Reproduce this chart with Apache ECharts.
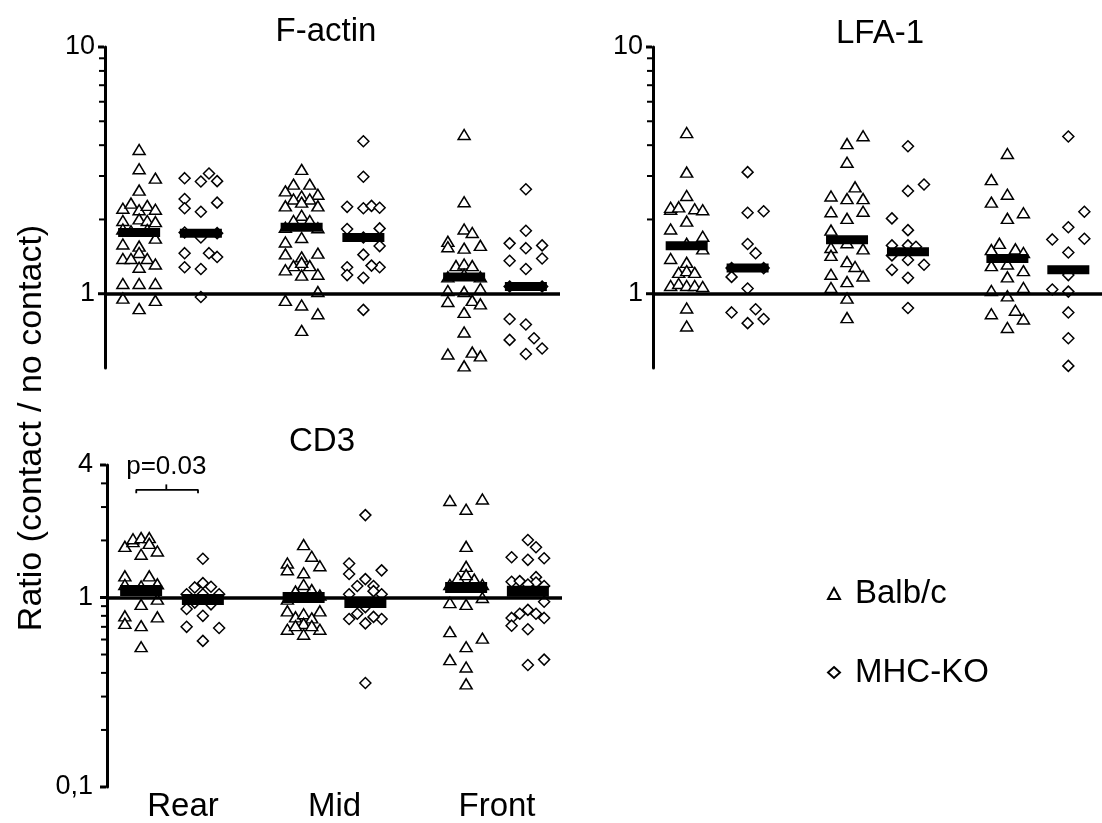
<!DOCTYPE html>
<html>

<head>
    <meta charset="utf-8">
    <title>Ratio contact / no contact</title>
    <script src="https://cdn.jsdelivr.net/npm/echarts@6/dist/echarts.min.js"></script>
    <style>
        html,
        body {
            margin: 0;
            padding: 0;
            background: #fff;
        }

        #main {
            width: 1102px;
            height: 823px;
        }
    </style>
</head>

<body>
    <div id="main"></div>
    <script>
        // categories and groups
        var categories = ['Rear', 'Mid', 'Front'];
        var strains = ['Balb/c', 'MHC-KO'];

        // points per category: [column slot in the swarm, ratio]
        var factinBalb = [
            [[0, 3.84], [0, 3.21], [2, 2.94], [0, 2.63], [-2, 2.22], [-1, 2.33], [0, 2.19], [1, 2.28], [2, 2.20], [-2, 1.98], [0, 2.01], [1, 1.98], [2, 1.96], [-2, 1.83], [-1, 1.8], [1, 1.82], [2, 1.68], [-2, 1.59], [0, 1.56], [0, 1.47], [-2, 1.39], [-1, 1.39], [1, 1.39], [2, 1.32], [0, 1.28], [-2, 1.10], [0, 1.10], [2, 1.10], [-2, 0.96], [2, 0.94], [0, 0.87]],
            [[0, 3.19], [-1, 2.78], [1, 2.78], [-2, 2.61], [2, 2.53], [0, 2.49], [-1, 2.42], [1, 2.42], [-2, 2.27], [2, 2.27], [0, 2.35], [0, 2.08], [-1, 1.98], [1, 1.98], [-2, 1.86], [2, 1.85], [0, 1.69], [-2, 1.62], [-2, 1.45], [0, 1.41], [2, 1.46], [-1, 1.30], [1, 1.30], [0, 1.34], [-2, 1.25], [0, 1.19], [2, 1.20], [2, 1.02], [-2, 0.94], [0, 0.90], [2, 0.83], [0, 0.71]],
            [[0, 4.42], [0, 2.36], [0, 1.83], [1, 1.77], [-2, 1.63], [-2, 1.55], [0, 1.53], [2, 1.57], [-1, 1.30], [0, 1.32], [1, 1.30], [-2, 1.17], [2, 1.17], [0, 1.2], [-2, 1.03], [2, 1.05], [0, 1.02], [-2, 0.93], [1, 0.94], [2, 0.91], [0, 0.84], [0, 0.70], [-2, 0.57], [1, 0.58], [2, 0.56], [0, 0.51]]
        ];
        var factinKo = [
            [[-2, 2.94], [0, 2.85], [1, 3.07], [2, 2.86], [-2, 2.42], [-2, 2.22], [2, 2.34], [0, 2.15], [-2, 1.77], [2, 1.76], [0, 1.69], [-2, 1.46], [1, 1.46], [2, 1.41], [-2, 1.28], [0, 1.26], [0, 0.97]],
            [[0, 4.15], [0, 2.98], [-2, 2.25], [0, 2.22], [1, 2.27], [2, 2.23], [-2, 1.83], [2, 1.84], [0, 1.69], [2, 1.56], [0, 1.44], [-2, 1.28], [2, 1.28], [1, 1.30], [-2, 1.19], [0, 1.16], [0, 0.86]],
            [[0, 2.65], [0, 1.80], [-2, 1.60], [0, 1.53], [2, 1.57], [-2, 1.36], [2, 1.39], [0, 1.26], [-2, 1.07], [2, 1.07], [-2, 0.79], [0, 0.75], [-2, 0.65], [1, 0.66], [2, 0.60], [0, 0.57]]
        ];
        var factinMedBalb = [1.77, 1.86, 1.17];
        var factinMedKo = [1.76, 1.69, 1.07];

        var lfaBalb = [
            [[0, 4.50], [0, 3.11], [0, 2.50], [-2, 2.20], [-2, 2.24], [-1, 2.25], [1, 2.21], [2, 2.19], [0, 1.97], [-2, 1.83], [2, 1.71], [0, 1.6], [2, 1.52], [-2, 1.39], [0, 1.34], [-1, 1.22], [0, 1.24], [1, 1.22], [-2, 1.08], [-1, 1.10], [0, 1.08], [1, 1.08], [2, 1.07], [0, 0.875], [0, 0.74]],
            [[2, 4.37], [0, 4.06], [0, 3.41], [1, 2.71], [-2, 2.49], [0, 2.43], [2, 2.43], [-2, 2.15], [2, 2.16], [0, 2.02], [-2, 1.81], [0, 1.61], [-2, 1.54], [2, 1.52], [-2, 1.43], [0, 1.35], [1, 1.29], [-2, 1.20], [2, 1.18], [0, 1.12], [-2, 1.06], [0, 0.96], [0, 0.80]],
            [[0, 3.70], [-2, 2.90], [0, 2.53], [-2, 2.35], [2, 2.13], [0, 2.02], [-1, 1.60], [-2, 1.51], [1, 1.52], [2, 1.47], [-2, 1.30], [0, 1.32], [2, 1.24], [0, 1.17], [-2, 1.03], [2, 1.06], [0, 0.98], [-2, 0.83], [1, 0.857], [2, 0.79], [0, 0.73]]
        ];
        var lfaKo = [
            [[0, 3.11], [0, 2.13], [2, 2.16], [0, 1.59], [1, 1.46], [-2, 1.27], [2, 1.27], [-2, 1.17], [0, 1.05], [-2, 0.84], [1, 0.865], [0, 0.76], [2, 0.79]],
            [[0, 3.96], [2, 2.77], [0, 2.61], [-2, 2.02], [0, 1.81], [-2, 1.57], [0, 1.57], [1, 1.55], [-2, 1.43], [0, 1.37], [2, 1.31], [-2, 1.25], [0, 1.16], [0, 0.875]],
            [[0, 4.34], [2, 2.15], [0, 1.86], [-2, 1.66], [2, 1.67], [0, 1.47], [0, 1.19], [-2, 1.04], [0, 1.02], [0, 0.84], [0, 0.66], [0, 0.51]]
        ];
        var lfaMedBalb = [1.565, 1.655, 1.39];
        var lfaMedKo = [1.27, 1.48, 1.25];

        var cd3Balb = [
            [[-2, 1.86], [-1, 1.97], [-1, 2.04], [0, 2.07], [1, 2.07], [1, 1.93], [2, 1.76], [0, 1.69], [-2, 1.30], [1, 1.30], [-2, 1.17], [0, 1.15], [2, 1.18], [2, 0.98], [0, 0.92], [-2, 0.80], [-2, 0.73], [0, 0.71], [2, 0.79], [0, 0.55]],
            [[0, 1.90], [1, 1.65], [-2, 1.52], [-2, 1.40], [2, 1.47], [0, 1.35], [-1, 1.08], [1, 1.10], [0, 1.17], [-2, 0.98], [2, 1.03], [-2, 0.85], [2, 0.85], [-1, 0.79], [0, 0.82], [1, 0.78], [0, 0.73], [-2, 0.68], [2, 0.68], [-1, 0.71], [1, 0.71], [0, 0.64]],
            [[-2, 3.25], [2, 3.31], [0, 2.92], [0, 1.86], [0, 1.46], [-1, 1.27], [1, 1.25], [0, 1.32], [-2, 1.17], [2, 1.17], [-2, 0.94], [0, 0.92], [2, 1.0], [-2, 0.66], [2, 0.61], [0, 0.55], [-2, 0.47], [0, 0.43], [0, 0.35]]
        ];
        var cd3Ko = [
            [[0, 1.60], [0, 1.19], [-1, 1.13], [1, 1.14], [-2, 1.04], [2, 1.04], [0, 1.04], [-1, 0.94], [1, 0.92], [-2, 0.87], [0, 0.80], [-2, 0.70], [2, 0.69], [0, 0.59]],
            [[0, 2.72], [-2, 1.51], [2, 1.39], [-2, 1.33], [0, 1.25], [-1, 1.15], [1, 1.15], [-2, 1.04], [2, 1.04], [1, 1.08], [0, 0.89], [-1, 0.82], [2, 0.77], [-2, 0.77], [0, 0.73], [1, 0.79], [0, 0.354]],
            [[0, 2.01], [1, 1.84], [-2, 1.63], [0, 1.58], [2, 1.61], [1, 1.28], [-2, 1.21], [-1, 1.22], [1, 1.20], [0, 1.17], [2, 1.15], [2, 0.95], [0, 0.86], [1, 0.82], [2, 0.78], [-2, 0.78], [-1, 0.82], [-2, 0.71], [0, 0.68], [0, 0.44], [2, 0.47]]
        ];
        var cd3MedBalb = [1.09, 1.0, 1.13];
        var cd3MedKo = [0.976, 0.94, 1.08];

        // axis ticks and their labels
        var topMajorTicks = [1, 10];
        var topMinorTicks = [2, 3, 4, 5, 6, 7, 8, 9];
        var topTickLabels = ['', '1', '10'];          // min, 1, max
        var cd3MajorTicks = [0.1, 1, 5];
        var cd3MinorTicks = [0.2, 0.3, 0.4, 0.5, 0.6, 0.7, 0.8, 0.9, 2, 3, 4];
        var cd3TickLabels = ['0,1', '1', '4'];        // min, 1, max
        var pValue = 'p=0.03';

        var FONT = "'Liberation Sans', Arial, sans-serif";
        var X_MIN = -0.4, X_MAX = 2.4;
        var SIDE = 0.19, COL = 0.05;

        function swarm(groups, side) {
            var out = [];
            groups.forEach(function (pts, i) {
                pts.forEach(function (p) {
                    out.push([i + side * SIDE + p[0] * COL, p[1]]);
                });
            });
            return out;
        }

        function medians(balb, ko) {
            var out = [];
            balb.forEach(function (v, i) {
                out.push([i - SIDE, v]);
                out.push([i + SIDE, ko[i]]);
            });
            return out;
        }

        var panels = [
            { title: 'F-actin', grid: { left: 105, top: 47, width: 455, height: 321 }, min: 0.5, max: 10, balb: factinBalb, ko: factinKo, medB: factinMedBalb, medK: factinMedKo, major: topMajorTicks, minor: topMinorTicks, labels: topTickLabels, barH: 9, titlePos: [326, 32] },
            { title: 'LFA-1', grid: { left: 653, top: 47, width: 455, height: 321 }, min: 0.5, max: 10, balb: lfaBalb, ko: lfaKo, medB: lfaMedBalb, medK: lfaMedKo, major: topMajorTicks, minor: topMinorTicks, labels: topTickLabels, barH: 9, titlePos: [880, 34] },
            { title: 'CD3', grid: { left: 107, top: 465, width: 455, height: 327 }, min: 0.1, max: 5, balb: cd3Balb, ko: cd3Ko, medB: cd3MedBalb, medK: cd3MedKo, major: cd3MajorTicks, minor: cd3MinorTicks, labels: cd3TickLabels, barH: 11, titlePos: [322, 442] }
        ];

        var grids = [], xAxes = [], yAxes = [], series = [], graphics = [];

        panels.forEach(function (p, k) {
            grids.push(p.grid);
            xAxes.push({
                type: 'value',
                gridIndex: k,
                min: X_MIN,
                max: X_MAX,
                show: k === 2,
                axisLine: { show: false },
                axisTick: { show: false },
                splitLine: { show: false },
                axisLabel: {
                    customValues: [0, 1, 2],
                    margin: 3,
                    fontFamily: FONT,
                    fontSize: 33,
                    color: '#000',
                    formatter: function (v) {
                        var i = Math.round(v);
                        return i === 0 ? '{r|' + categories[i] + '}' : categories[i];
                    },
                    rich: { r: { fontFamily: FONT, fontSize: 33, color: '#000', padding: [0, 0, 0, 22] } }
                }
            });
            yAxes.push({
                type: 'log',
                logBase: 10,
                gridIndex: k,
                min: p.min,
                max: p.max,
                axisLine: { show: true, onZero: false, lineStyle: { color: '#000', width: 3 } },
                axisTick: { show: false },
                splitLine: { show: false },
                axisLabel: {
                    margin: k === 2 ? 14 : 10,
                    fontFamily: FONT,
                    fontSize: 27,
                    color: '#000',
                    formatter: function (v) {
                        if (Math.abs(v - p.min) < 1e-6) return p.labels[0];
                        if (Math.abs(v - 1) < 1e-6) return p.labels[1];
                        if (Math.abs(v - p.max) < 1e-6) return p.labels[2];
                        return '';
                    }
                }
            });

            series.push({
                name: strains[0],
                type: 'scatter',
                xAxisIndex: k,
                yAxisIndex: k,
                symbol: 'triangle',
                symbolSize: [12, 10],
                itemStyle: { color: '#fff', borderColor: '#000', borderWidth: 1.5, opacity: 1 },
                data: swarm(p.balb, -1),
                z: 3
            });
            series.push({
                name: strains[1],
                type: 'scatter',
                xAxisIndex: k,
                yAxisIndex: k,
                symbol: 'diamond',
                symbolSize: [11, 11],
                itemStyle: { color: '#fff', borderColor: '#000', borderWidth: 1.5, opacity: 1 },
                data: swarm(p.ko, 1),
                z: 3
            });
            // medians + reference line at ratio 1
            series.push({
                name: 'median',
                type: 'scatter',
                xAxisIndex: k,
                yAxisIndex: k,
                symbol: 'rect',
                symbolSize: [42, p.barH],
                itemStyle: { color: '#000', opacity: 1 },
                data: medians(p.medB, p.medK),
                z: 4,
                silent: true,
                markLine: {
                    silent: true,
                    symbol: 'none',
                    label: { show: false },
                    lineStyle: { color: '#000', width: 3.5, type: 'solid', opacity: 1 },
                    data: [{ yAxis: 1 }]
                }
            });
            // log axis ticks
            series.push({
                name: 'ticks',
                type: 'scatter',
                xAxisIndex: k,
                yAxisIndex: k,
                clip: false,
                silent: true,
                symbol: 'rect',
                symbolSize: [6, 3],
                symbolOffset: [-4, 0],
                itemStyle: { color: '#000', opacity: 1 },
                data: p.major.map(function (v) { return [X_MIN, v]; })
            });
            series.push({
                name: 'ticks',
                type: 'scatter',
                xAxisIndex: k,
                yAxisIndex: k,
                clip: false,
                silent: true,
                symbol: 'rect',
                symbolSize: [5, 2],
                symbolOffset: [-3.5, 0],
                itemStyle: { color: '#000', opacity: 1 },
                data: p.minor.map(function (v) { return [X_MIN, v]; })
            });

            graphics.push({
                type: 'text',
                x: p.titlePos[0],
                y: p.titlePos[1],
                style: { text: p.title, fontFamily: FONT, fontSize: 33, fill: '#000', align: 'center', verticalAlign: 'middle' }
            });
        });

        // p-value bracket on CD3, Rear
        series.push({
            name: 'bracket',
            type: 'line',
            xAxisIndex: 2,
            yAxisIndex: 2,
            silent: true,
            symbol: 'none',
            lineStyle: { color: '#000', width: 1.8, opacity: 1 },
            data: [[-0.22, 3.55], [-0.22, 3.7], [0.16, 3.7], [0.16, 3.55]]
        });
        series.push({
            name: 'bracket',
            type: 'line',
            xAxisIndex: 2,
            yAxisIndex: 2,
            silent: true,
            symbol: 'none',
            lineStyle: { color: '#000', width: 1.8, opacity: 1 },
            data: [[-0.035, 3.7], [-0.035, 3.95]]
        });
        series.push({
            name: 'pvalue',
            type: 'scatter',
            xAxisIndex: 2,
            yAxisIndex: 2,
            silent: true,
            symbolSize: 0,
            itemStyle: { opacity: 1 },
            label: { show: true, position: 'inside', formatter: pValue, fontFamily: FONT, fontSize: 26, color: '#000' },
            data: [[-0.035, 4.9]]
        });

        graphics.push({
            type: 'text',
            x: 32,
            y: 428,
            rotation: Math.PI / 2,
            style: { text: 'Ratio (contact / no contact)', fontFamily: FONT, fontSize: 34, fill: '#000', align: 'center', verticalAlign: 'middle' }
        });

        var chart = echarts.init(document.getElementById('main'));
        chart.setOption({
            animation: false,
            backgroundColor: '#fff',
            grid: grids,
            xAxis: xAxes,
            yAxis: yAxes,
            legend: {
                data: strains,
                orient: 'vertical',
                left: 822,
                top: 572,
                itemWidth: 12,
                itemHeight: 11,
                itemGap: 46,
                textStyle: { fontFamily: FONT, fontSize: 33, color: '#000', padding: [0, 0, 0, 10] }
            },
            graphic: graphics,
            series: series
        });
    </script>
</body>

</html>
